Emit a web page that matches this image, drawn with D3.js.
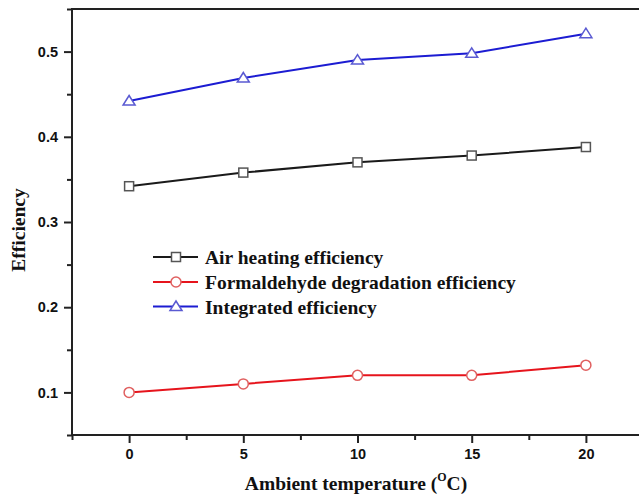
<!DOCTYPE html>
<html><head><meta charset="utf-8">
<script src="https://cdn.jsdelivr.net/npm/d3@7"></script>
<style>html,body{margin:0;padding:0;background:#fff;}svg{display:block;}</style>
</head><body>
<svg id="chart" width="639" height="496"></svg>
<script>
const temps = [0, 5, 10, 15, 20];
const airHeating = [0.342, 0.358, 0.370, 0.378, 0.388];
const formaldehyde = [0.100, 0.110, 0.120, 0.120, 0.132];
const integrated = [0.442, 0.469, 0.490, 0.498, 0.521];
const xTicks = [0, 5, 10, 15, 20];
const yTicks = [0.1, 0.2, 0.3, 0.4, 0.5];
const seriesNames = ["Air heating efficiency", "Formaldehyde degradation efficiency", "Integrated efficiency"];

const svg = d3.select("#chart");
const x = d3.scaleLinear().domain([-2.5, 22.5]).range([72, 643]);
const y = d3.scaleLinear().domain([0.05, 0.55]).range([435, 9]);

const series = [
  {name: seriesNames[0], values: airHeating, line: "#1a1a1a", mk: "#555", shape: "square"},
  {name: seriesNames[1], values: formaldehyde, line: "#e6141c", mk: "#e06060", shape: "circle"},
  {name: seriesNames[2], values: integrated, line: "#1c1cd2", mk: "#5a5ad2", shape: "triangle"}
];

// frame
svg.append("rect").attr("x", x(-2.5)).attr("y", y(0.55)).attr("width", x(22.5)-x(-2.5)).attr("height", y(0.05)-y(0.55))
  .attr("fill", "none").attr("stroke", "#222").attr("stroke-width", 2);

// axes
const xMinor = d3.range(-2.5, 22.6, 2.5).filter(v => !xTicks.includes(v));
const yMinor = [0.05, 0.15, 0.25, 0.35, 0.45, 0.55];
const xAxis = d3.axisBottom(x).tickValues(xTicks).tickFormat(d3.format("d")).tickSize(8).tickPadding(6);
const gx = svg.append("g").attr("transform", `translate(0,${y(0.05)})`).call(xAxis);
gx.select(".domain").remove();
gx.selectAll(".tick line").attr("stroke", "#222").attr("stroke-width", 2);
gx.selectAll(".tick text").attr("font-family", "Liberation Sans, Arial, sans-serif").attr("font-weight", "bold").attr("font-size", 14.5).attr("fill", "#111");
const gxm = svg.append("g").attr("transform", `translate(0,${y(0.05)})`).call(d3.axisBottom(x).tickValues(xMinor).tickFormat("").tickSize(5));
gxm.select(".domain").remove();
gxm.selectAll(".tick line").attr("stroke", "#222").attr("stroke-width", 2);

const yAxis = d3.axisLeft(y).tickValues(yTicks).tickFormat(d3.format(".1f")).tickSize(8).tickPadding(6);
const gy = svg.append("g").attr("transform", `translate(${x(-2.5)},0)`).call(yAxis);
gy.select(".domain").remove();
gy.selectAll(".tick line").attr("stroke", "#222").attr("stroke-width", 2);
gy.selectAll(".tick text").attr("font-family", "Liberation Sans, Arial, sans-serif").attr("font-weight", "bold").attr("font-size", 14.5).attr("fill", "#111");
const gym = svg.append("g").attr("transform", `translate(${x(-2.5)},0)`).call(d3.axisLeft(y).tickValues(yMinor).tickFormat("").tickSize(5));
gym.select(".domain").remove();
gym.selectAll(".tick line").attr("stroke", "#222").attr("stroke-width", 2);

// lines
const line = d3.line().x((d, i) => x(temps[i])).y(d => y(d));
function marker(g, s, cx, cy) {
  if (s.shape === "square") {
    g.append("rect").attr("x", cx-4.5).attr("y", cy-4.5).attr("width", 9).attr("height", 9)
      .attr("fill", "#fff").attr("stroke", s.mk).attr("stroke-width", 1.5);
  } else if (s.shape === "circle") {
    g.append("circle").attr("cx", cx).attr("cy", cy).attr("r", 5)
      .attr("fill", "#fff").attr("stroke", s.mk).attr("stroke-width", 1.5);
  } else {
    g.append("path").attr("d", `M${cx},${cy-5.5} L${cx+6},${cy+4} L${cx-6},${cy+4} Z`)
      .attr("fill", "#fff").attr("stroke", s.mk).attr("stroke-width", 1.5);
  }
}
series.forEach(s => {
  svg.append("path").datum(s.values).attr("d", line).attr("fill", "none").attr("stroke", s.line).attr("stroke-width", 2);
  const g = svg.append("g");
  s.values.forEach((v, i) => marker(g, s, x(temps[i]), y(v)));
});

// legend
const legY = [257, 282, 306.5];
series.forEach((s, i) => {
  const g = svg.append("g");
  g.append("line").attr("x1", 153).attr("x2", 198).attr("y1", legY[i]).attr("y2", legY[i]).attr("stroke", s.line).attr("stroke-width", 2);
  marker(g, s, 176, legY[i]);
  g.append("text").attr("x", 205).attr("y", legY[i] + 7).text(s.name)
    .attr("font-family", "Liberation Serif, Times New Roman, serif").attr("font-weight", "bold").attr("font-size", 19.5).attr("fill", "#111");
});

// axis titles
const xt = svg.append("text").attr("x", 356).attr("y", 490).attr("text-anchor", "middle")
  .attr("font-family", "Liberation Serif, Times New Roman, serif").attr("font-weight", "bold").attr("font-size", 19.5).attr("fill", "#111");
xt.append("tspan").text("Ambient temperature (");
xt.append("tspan").text("O").attr("font-size", 12).attr("dy", -9);
xt.append("tspan").text("C)").attr("dy", 9);

svg.append("text").attr("transform", "translate(25,230) rotate(-90)").attr("text-anchor", "middle")
  .attr("font-family", "Liberation Serif, Times New Roman, serif").attr("font-weight", "bold").attr("font-size", 19.5).attr("fill", "#111")
  .text("Efficiency");
</script>
</body></html>
